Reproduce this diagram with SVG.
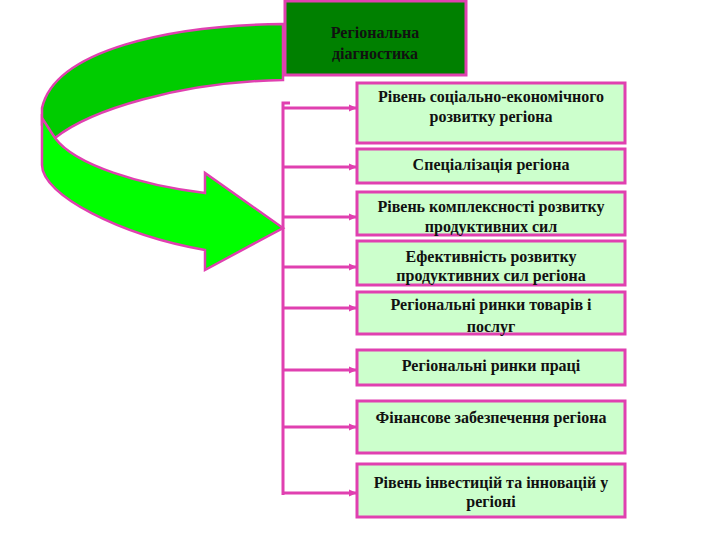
<svg xmlns="http://www.w3.org/2000/svg" width="720" height="540" viewBox="0 0 720 540">
<defs>
<marker id="ah" markerWidth="8" markerHeight="8" refX="7" refY="4" orient="auto" markerUnits="userSpaceOnUse">
<path d="M0,0.5 L8,4 L0,7.5 Z" fill="#e040b0"/>
</marker>
<style>
.box{fill:#ccffcc;stroke:#e040b0;stroke-width:3}
.t{font-family:'Liberation Serif','DejaVu Serif',serif;font-weight:bold;font-size:16px;fill:#111;text-anchor:middle}
.c{stroke:#e040b0;stroke-width:3;fill:none}
</style>
</defs>
<rect width="720" height="540" fill="#ffffff"/>
<g id="arrow">
<path d="M283,24 C170,25 55,50 42,108 L42,125 L55,138 C90,110 180,82 283,80 Z" fill="#00cc00" stroke="#e040b0" stroke-width="2.5"/>
<path d="M42,118 L55,138 C75,165 140,185 205,193 L205,173 L283,228 L205,270 L205,250 C120,235 42,195 42,165 Z" fill="#00ff00" stroke="#e040b0" stroke-width="2.5" stroke-linejoin="miter"/>
</g>
<g id="top">
<rect x="285" y="1" width="181" height="74" fill="#008000" stroke="#e040b0" stroke-width="3"/>
<text class="t" x="375" y="38">Регіональна</text>
<text class="t" x="375" y="59">діагностика</text>
</g>
<g id="connectors">
<path class="c" d="M290,103 L283,103 L283,495"/>
<line class="c" x1="283" y1="108" x2="356" y2="108" marker-end="url(#ah)"/>
<line class="c" x1="283" y1="167" x2="356" y2="167" marker-end="url(#ah)"/>
<line class="c" x1="283" y1="217" x2="356" y2="217" marker-end="url(#ah)"/>
<line class="c" x1="283" y1="267" x2="356" y2="267" marker-end="url(#ah)"/>
<line class="c" x1="283" y1="308" x2="356" y2="308" marker-end="url(#ah)"/>
<line class="c" x1="283" y1="370" x2="356" y2="370" marker-end="url(#ah)"/>
<line class="c" x1="283" y1="427" x2="356" y2="427" marker-end="url(#ah)"/>
<line class="c" x1="283" y1="493" x2="356" y2="493" marker-end="url(#ah)"/>
</g>
<g id="n1"><rect class="box" x="357" y="83" width="268" height="60"/>
<text class="t" x="491" y="102">Рівень соціально-економічного</text>
<text class="t" x="491" y="122">розвитку регіона</text></g>
<g id="n2"><rect class="box" x="357" y="149" width="268" height="34"/>
<text class="t" x="491" y="170">Спеціалізація регіона</text></g>
<g id="n3"><rect class="box" x="357" y="192" width="268" height="43"/>
<text class="t" x="491" y="212">Рівень комплексності розвитку</text>
<text class="t" x="491" y="232">продуктивних сил</text></g>
<g id="n4"><rect class="box" x="357" y="241" width="268" height="44"/>
<text class="t" x="491" y="262">Ефективність розвитку</text>
<text class="t" x="491" y="281">продуктивних сил регіона</text></g>
<g id="n5"><rect class="box" x="357" y="292" width="268" height="42"/>
<text class="t" x="491" y="310">Регіональні ринки товарів і</text>
<text class="t" x="491" y="332">послуг</text></g>
<g id="n6"><rect class="box" x="357" y="350" width="268" height="35"/>
<text class="t" x="491" y="371">Регіональні ринки праці</text></g>
<g id="n7"><rect class="box" x="357" y="401" width="268" height="52"/>
<text class="t" x="491" y="423">Фінансове забезпечення регіона</text></g>
<g id="n8"><rect class="box" x="357" y="464" width="268" height="53"/>
<text class="t" x="491" y="488">Рівень інвестицій та інновацій у</text>
<text class="t" x="491" y="507">регіоні</text></g>
</svg>
